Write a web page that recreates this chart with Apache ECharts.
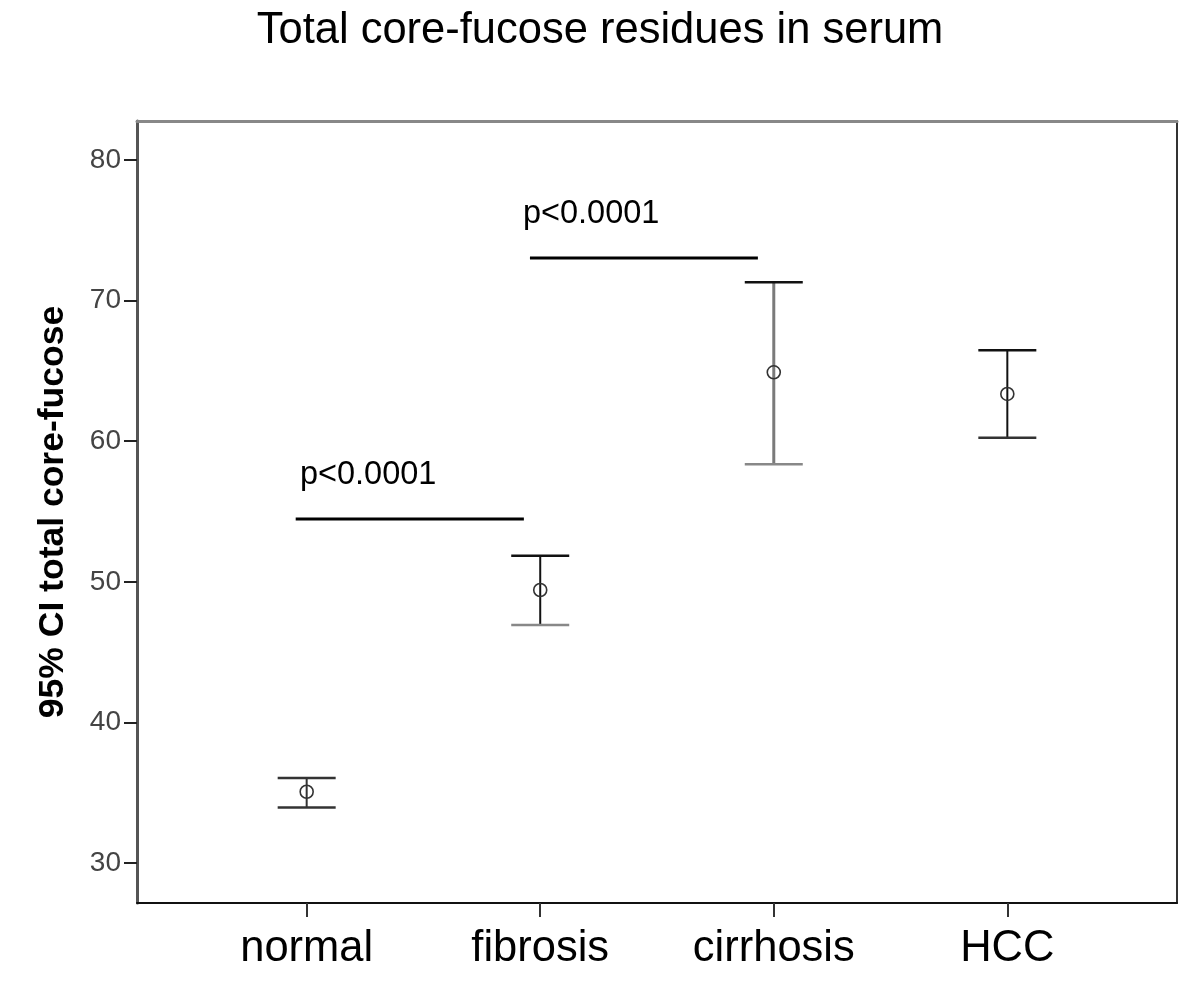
<!DOCTYPE html>
<html>
<head>
<meta charset="utf-8">
<script src="https://cdn.jsdelivr.net/npm/echarts@6/dist/echarts.min.js"></script>
<style>html,body{margin:0;padding:0;background:#fff;}#c{width:1200px;height:983px;}</style>
</head>
<body>
<div id="c"></div>
<script>
// ---- data ----
const categories = ['normal', 'fibrosis', 'cirrhosis', 'HCC'];
const means = [35.07, 49.42, 64.9, 63.36];
const lowerCI = [33.96, 46.93, 58.36, 60.25];
const upperCI = [36.05, 51.86, 71.3, 66.46];
const yTicks = [30, 40, 50, 60, 70, 80];
const sigLabels = ['p<0.0001', 'p<0.0001'];
const sigStart = [-0.047, 0.956];   // x (category units)
const sigEnd = [0.93, 1.932];
const sigLevel = [54.47, 73.03];    // y value of bracket line
const sigLabelX = [-0.029, 0.926];  // x where label text starts

// ---- styles ----
const stemColors = ['#333', '#111', '#7a7a7a', '#111'];
const stemWidths = [2, 2, 3, 2];
const capColors = [['#333', '#333'], ['#111', '#888'], ['#111', '#888'], ['#111', '#333']];

const chart = echarts.init(document.getElementById('c'), null, { renderer: 'canvas' });
const FONT = 'Liberation Sans, Arial, sans-serif';

const xMin = -0.7265, xMax = 3.7265;
const yMin = 27.16, yMax = 82.77;

const ciData = categories.map((c, i) => [i, lowerCI[i], means[i], upperCI[i]]);
const sigData = sigLabels.map((t, i) => [sigStart[i], sigEnd[i], sigLevel[i], sigLabelX[i]]);

chart.setOption({
  backgroundColor: '#fff',
  animation: false,
  title: {
    text: 'Total core-fucose residues in serum',
    left: 'center',
    top: 4,
    textStyle: { fontFamily: FONT, fontSize: 43.5, fontWeight: 'normal', color: '#000' }
  },
  grid: { left: 137, right: 23, top: 121, bottom: 80 },
  xAxis: [{
    type: 'value', min: xMin, max: xMax, position: 'bottom',
    splitLine: { show: false },
    axisLine: { show: true, onZero: false, lineStyle: { color: '#111', width: 2 } },
    axisTick: { show: true, customValues: [0, 1, 2, 3], length: 14, lineStyle: { color: '#333', width: 2 } },
    axisLabel: {
      customValues: [0, 1, 2, 3],
      formatter: v => categories[Math.round(v)] || '',
      fontFamily: FONT, fontSize: 43.5, color: '#000', margin: 24
    }
  }, {
    type: 'value', min: xMin, max: xMax, position: 'top',
    splitLine: { show: false },
    axisLine: { show: true, onZero: false, lineStyle: { color: '#888', width: 3 } },
    axisTick: { show: false }, axisLabel: { show: false }
  }],
  yAxis: [{
    type: 'value', min: yMin, max: yMax, position: 'left',
    name: '95% CI total core-fucose',
    nameLocation: 'middle', nameGap: 66,
    nameTextStyle: { fontFamily: FONT, fontSize: 35.5, fontWeight: 'bold', color: '#000' },
    splitLine: { show: false },
    axisLine: { show: true, onZero: false, lineStyle: { color: '#555', width: 3 } },
    axisTick: { show: true, customValues: yTicks, length: 13, lineStyle: { color: '#222', width: 2 } },
    axisLabel: {
      customValues: yTicks,
      fontFamily: FONT, fontSize: 28, color: '#444', margin: 16
    }
  }, {
    type: 'value', min: yMin, max: yMax, position: 'right',
    splitLine: { show: false },
    axisLine: { show: true, onZero: false, lineStyle: { color: '#333', width: 2 } },
    axisTick: { show: false }, axisLabel: { show: false }
  }],
  series: [{
    type: 'custom',
    xAxisIndex: 0, yAxisIndex: 0,
    data: ciData,
    renderItem: function (params, api) {
      const i = api.value(0);
      const lo = api.coord([i, api.value(1)]);
      const mid = api.coord([i, api.value(2)]);
      const hi = api.coord([i, api.value(3)]);
      const hw = 29;
      return {
        type: 'group',
        children: [
          { type: 'line', shape: { x1: lo[0], y1: lo[1], x2: hi[0], y2: hi[1] },
            style: { stroke: stemColors[i], lineWidth: stemWidths[i] } },
          { type: 'line', shape: { x1: hi[0] - hw, y1: hi[1], x2: hi[0] + hw, y2: hi[1] },
            style: { stroke: capColors[i][0], lineWidth: 2.5 } },
          { type: 'line', shape: { x1: lo[0] - hw, y1: lo[1], x2: lo[0] + hw, y2: lo[1] },
            style: { stroke: capColors[i][1], lineWidth: 2.5 } },
          { type: 'circle', shape: { cx: mid[0], cy: mid[1], r: 6.5 },
            style: { fill: 'none', stroke: '#333', lineWidth: 1.6 } }
        ]
      };
    }
  }, {
    type: 'custom',
    xAxisIndex: 0, yAxisIndex: 0,
    data: sigData,
    renderItem: function (params, api) {
      const a = api.coord([api.value(0), api.value(2)]);
      const b = api.coord([api.value(1), api.value(2)]);
      const t = api.coord([api.value(3), api.value(2)]);
      const label = sigLabels[params.dataIndex];
      return {
        type: 'group',
        children: [
          { type: 'line', shape: { x1: a[0], y1: a[1], x2: b[0], y2: b[1] },
            style: { stroke: '#000', lineWidth: 3 } },
          { type: 'text', x: t[0], y: t[1] - 27,
            style: { text: label, fontFamily: FONT, fontSize: 32.5, fill: '#000',
                     align: 'left', verticalAlign: 'bottom' } }
        ]
      };
    }
  }]
});
</script>
</body>
</html>
